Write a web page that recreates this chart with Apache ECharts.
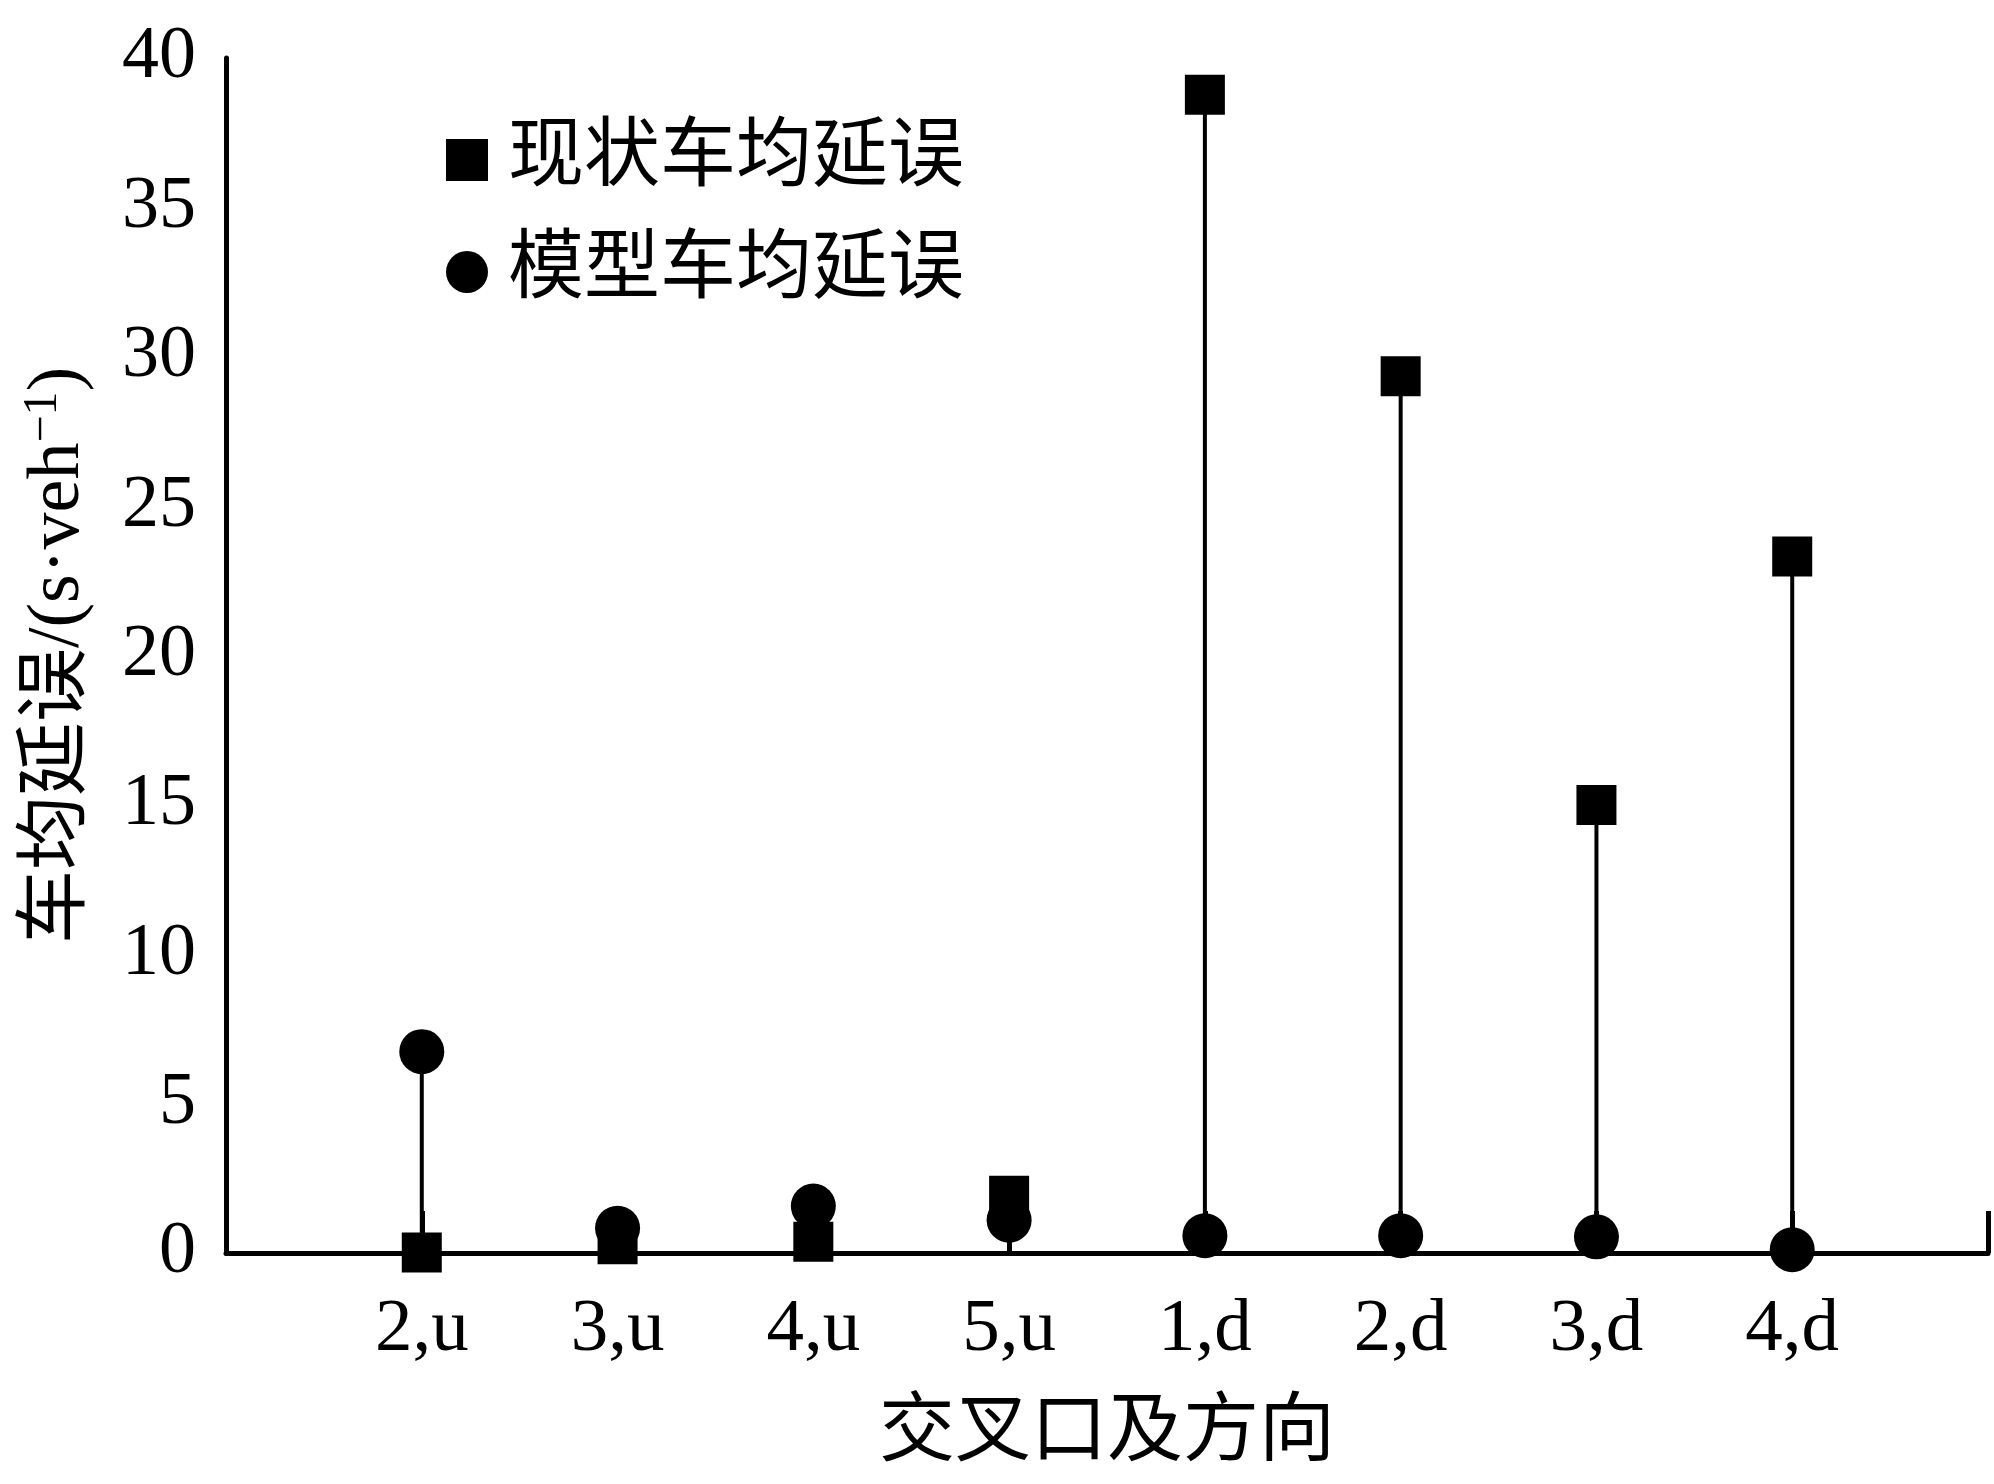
<!DOCTYPE html>
<html>
<head>
<meta charset="utf-8">
<script src="https://cdn.jsdelivr.net/npm/echarts@6/dist/echarts.min.js"></script>
<style>
html,body{margin:0;padding:0;background:#fff;}
#chart{width:1994px;height:1484px;}
</style>
</head>
<body>
<div id="chart"></div>
<script>
const categories = ['2,u', '3,u', '4,u', '5,u', '1,d', '2,d', '3,d', '4,d'];
const currentDelay = [0.02, 0.29, 0.38, 1.92, 38.77, 29.35, 15.0, 23.31];
const modelDelay = [6.74, 0.83, 1.57, 1.10, 0.58, 0.58, 0.54, 0.11];
const seriesNames = ['现状车均延误', '模型车均延误'];
const xAxisName = '交叉口及方向';
const yAxisName = '车均延误/(s·veh{sup|−1})';
const yMin = 0, yMax = 40, yStep = 5;

const xLabels = [''].concat(categories, ['']);
const FONT = '"Liberation Serif", "Noto Sans CJK SC", serif';

const chart = echarts.init(document.getElementById('chart'), null, {renderer: 'canvas'});
const axisLine = {lineStyle: {color: '#000', width: 5}};
const axisTick = {inside: true, length: 42, lineStyle: {color: '#000', width: 5}};

chart.setOption({
  animation: false,
  backgroundColor: '#fff',
  textStyle: {fontFamily: FONT},
  grid: {left: 226, right: 6, top: 58, bottom: 231, containLabel: false},
  legend: {
    orient: 'vertical',
    left: 441,
    top: 117,
    itemWidth: 42,
    itemHeight: 42,
    itemGap: 36,
    data: [{name: seriesNames[0], icon: 'rect'}, {name: seriesNames[1], icon: 'circle'}],
    itemStyle: {opacity: 1},
    textStyle: {fontFamily: FONT, fontSize: 76, lineHeight: 76, color: '#000', padding: [0, 0, 0, 15]}
  },
  xAxis: {
    type: 'category',
    data: xLabels,
    boundaryGap: false,
    name: xAxisName,
    nameLocation: 'middle',
    nameGap: 144,
    nameTextStyle: {fontFamily: FONT, fontSize: 76, color: '#000'},
    axisLine: axisLine,
    axisTick: Object.assign({interval: 0}, axisTick),
    axisLabel: {interval: 0, margin: 40, fontFamily: FONT, fontSize: 75, color: '#000'},
    splitLine: {show: false}
  },
  yAxis: {
    type: 'value',
    min: yMin, max: yMax, interval: yStep,
    name: yAxisName,
    nameLocation: 'middle',
    nameGap: 127,
    nameTextStyle: {
      fontFamily: FONT, fontSize: 74, color: '#000', lineHeight: 80,
      rich: {sup: {fontFamily: FONT, fontSize: 48, color: '#000', verticalAlign: 'top', lineHeight: 80}}
    },
    axisLine: Object.assign({show: true}, axisLine),
    axisTick: axisTick,
    axisLabel: {margin: 30, fontFamily: FONT, fontSize: 74, color: '#000'},
    splitLine: {show: false}
  },
  series: [
    {
      type: 'custom',
      name: 'stem',
      z: 3,
      data: categories.map((c, i) => [i + 1, currentDelay[i], modelDelay[i]]),
      encode: {x: 0, y: [1, 2]},
      renderItem: function (params, api) {
        const p1 = api.coord([api.value(0), api.value(1)]);
        const p2 = api.coord([api.value(0), api.value(2)]);
        return {type: 'line', shape: {x1: p1[0], y1: p1[1], x2: p2[0], y2: p2[1]}, style: {stroke: '#000', lineWidth: 4}};
      }
    },
    {
      type: 'scatter',
      name: seriesNames[0],
      symbol: 'rect',
      symbolSize: 40,
      z: 4,
      itemStyle: {color: '#000', opacity: 1},
      data: categories.map((c, i) => [i + 1, currentDelay[i]])
    },
    {
      type: 'scatter',
      name: seriesNames[1],
      symbol: 'circle',
      symbolSize: 45,
      z: 5,
      itemStyle: {color: '#000', opacity: 1},
      data: categories.map((c, i) => [i + 1, modelDelay[i]])
    }
  ]
});
</script>
</body>
</html>
